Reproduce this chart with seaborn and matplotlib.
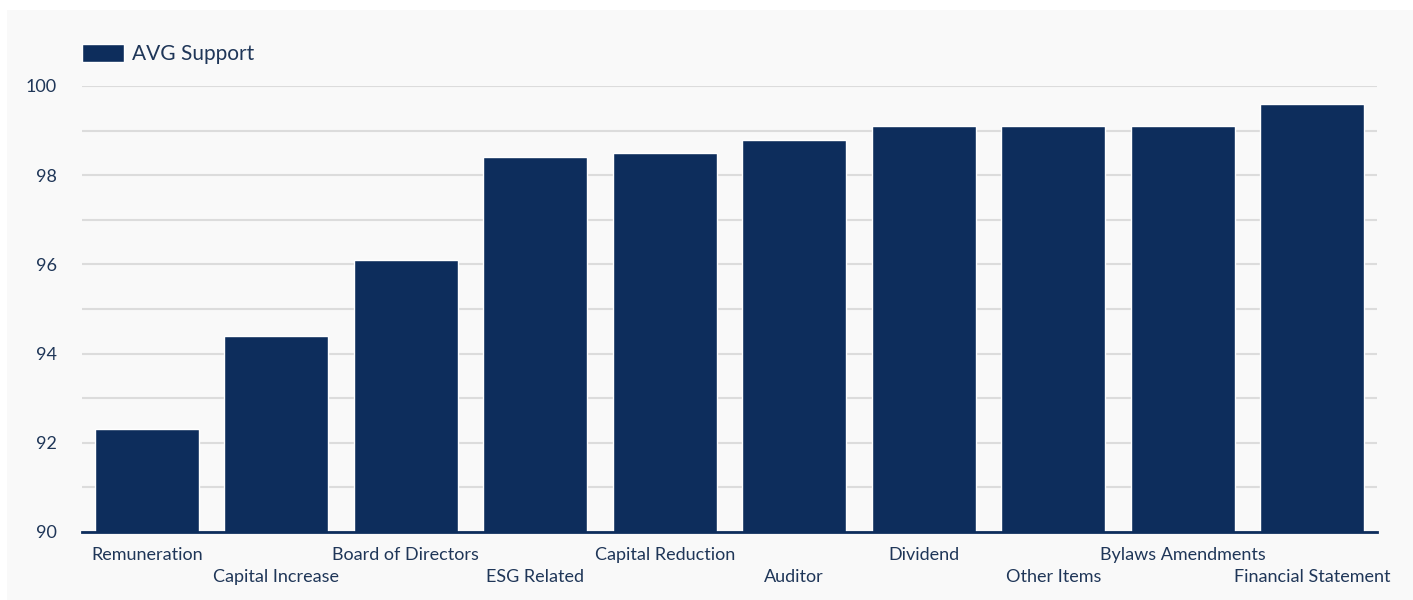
import matplotlib
matplotlib.use("Agg")
import matplotlib.pyplot as plt
import seaborn as sns
import pandas as pd
from matplotlib.patches import Rectangle

categories = ["Remuneration", "Capital Increase", "Board of Directors", "ESG Related",
              "Capital Reduction", "Auditor", "Dividend", "Other Items",
              "Bylaws Amendments", "Financial Statement"]
avg_support = [92.3, 94.4, 96.1, 98.4, 98.5, 98.8, 99.1, 99.1, 99.1, 99.6]
series_name = "AVG Support"
y_ticks = [90, 92, 94, 96, 98, 100]

BAR = "#0d2d5c"
TXT = "#1f3658"
BG = "#f9f9f9"

sns.set_theme(style="white")
plt.rcParams["font.family"] = ["Lato", "DejaVu Sans"]

W, H = 1413, 600
fig = plt.figure(figsize=(W / 100, H / 100), dpi=100)
fig.patch.set_facecolor("white")
fig.patches.append(Rectangle((7 / W, 0), 1 - 7 / W, (H - 10) / H,
                             transform=fig.transFigure, facecolor=BG,
                             edgecolor="none", zorder=-10))

ax = fig.add_axes([82 / W, (H - 532) / H, (1377 - 82) / W, (532 - 86) / H])
ax.set_facecolor(BG)
ax.patch.set_alpha(0)

df = pd.DataFrame({"category": categories, "value": avg_support})
sns.barplot(data=df, x="category", y="value", color=BAR, width=0.8,
            saturation=1, label=series_name, ax=ax, zorder=3)

ax.set_ylim(90, 100)
ax.set_xlim(-0.5, len(categories) - 0.5)
ax.set_yticks(y_ticks)
ax.set_yticks([91, 93, 95, 97, 99], minor=True)
ax.yaxis.grid(True, which="both", color="#dcdcdc", linewidth=1.5, zorder=0)
ax.set_axisbelow(True)
ax.set_xlabel("")
ax.set_ylabel("")

for s in ["top", "right", "left"]:
    ax.spines[s].set_visible(False)
ax.spines["bottom"].set_color(BAR)
ax.spines["bottom"].set_linewidth(2)
ax.spines["bottom"].set_zorder(5)

ax.tick_params(axis="both", which="both", length=0, labelcolor=TXT, labelsize=13)
ax.tick_params(axis="y", pad=18)
ax.set_xticks(range(len(categories)))
ax.set_xticklabels(categories)
for i, t in enumerate(ax.xaxis.get_major_ticks()):
    t.set_pad(10.5 if i % 2 == 0 else 26.5)

leg = ax.legend(loc="lower left", bbox_to_anchor=(82 / W, (H - 64) / H),
                bbox_transform=fig.transFigure, frameon=False, fontsize=15,
                borderpad=0, borderaxespad=0, handlelength=2.0, handleheight=0.96,
                handletextpad=0.4)
for t in leg.get_texts():
    t.set_color(TXT)

fig.savefig("out.png", dpi=100, facecolor=fig.get_facecolor())
